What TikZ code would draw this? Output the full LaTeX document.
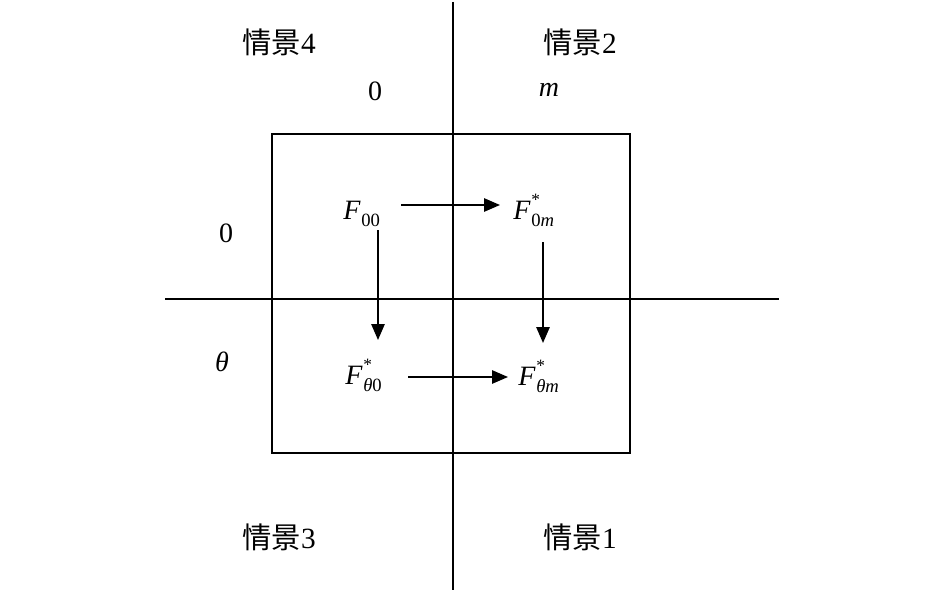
\documentclass[tikz,border=0pt]{standalone}
\usepackage{fontspec}
\setmainfont{Liberation Serif}
\newfontfamily\cjk{Noto Sans CJK SC}
\usetikzlibrary{arrows.meta}
\newcommand\subsz{\fontsize{14}{14}\selectfont}
\newcommand\starsz{\fontsize{13}{13}\selectfont}
\newcommand\Fplain[1]{\textit{F}\kern0.5pt\raisebox{-0.55ex}{\subsz #1}}
\newcommand\Fstar[1]{\textit{F}\kern0.5pt\rlap{\raisebox{1.05ex}{\starsz *}}\raisebox{-0.55ex}{\subsz #1}}
\begin{document}
\begin{tikzpicture}[x=0.75pt,y=-0.75pt,
  every node/.style={font=\fontsize{21}{24}\selectfont, inner sep=0pt},
  ln/.style={line width=1.4pt},
  arr/.style={line width=1.4pt,-{Triangle[length=12pt,width=10pt]}},
  fn/.style={anchor=base west},
  lab/.style={font=\fontsize{22}{25}\selectfont}]
\useasboundingbox (0,0) rectangle (945,592);
% axes
\coordinate (vt) at (453,2);
\coordinate (vb) at (453,590);
\coordinate (hl) at (165,299);
\coordinate (hr) at (779,299);
\draw[ln] (vt) -- (vb);
\draw[ln] (hl) -- (hr);
% square
\node[draw, line width=1.4pt, minimum width=358*0.75pt, minimum height=319*0.75pt] (sq) at (451,293.5) {};
% labels
\node[lab] (s4) at (279,42) {{\cjk 情景}4};
\node[lab] (s2) at (580,42) {{\cjk 情景}2};
\node[lab] (s3) at (279,537) {{\cjk 情景}3};
\node[lab] (s1) at (580,537) {{\cjk 情景}1};
\node (z1) at (375,91) {0};
\node (m1) at (549,90) {\textit{m}};
\node (z2) at (226,233) {0};
\node (th) at (222,362) {\textit{θ}};
% F nodes
\node[fn] (f00) at (343,219) {\Fplain{00}};
\node[fn] (f0m) at (513,219) {\Fstar{0\textit{m}}};
\node[fn] (ft0) at (345,384) {\Fstar{\textit{θ}0}};
\node[fn] (ftm) at (518,385) {\Fstar{\textit{θm}}};
% arrows
\draw[arr] ([shift={(58,-14)}]f00.base west) -- ([shift={(-13,-14)}]f0m.base west);
\draw[arr] ([shift={(35,11)}]f00.base west) -- ([shift={(33,-44)}]ft0.base west);
\draw[arr] ([shift={(30,23)}]f0m.base west) -- ([shift={(25,-42)}]ftm.base west);
\draw[arr] ([shift={(63,-7)}]ft0.base west) -- ([shift={(-10,-8)}]ftm.base west);
\end{tikzpicture}
\end{document}
